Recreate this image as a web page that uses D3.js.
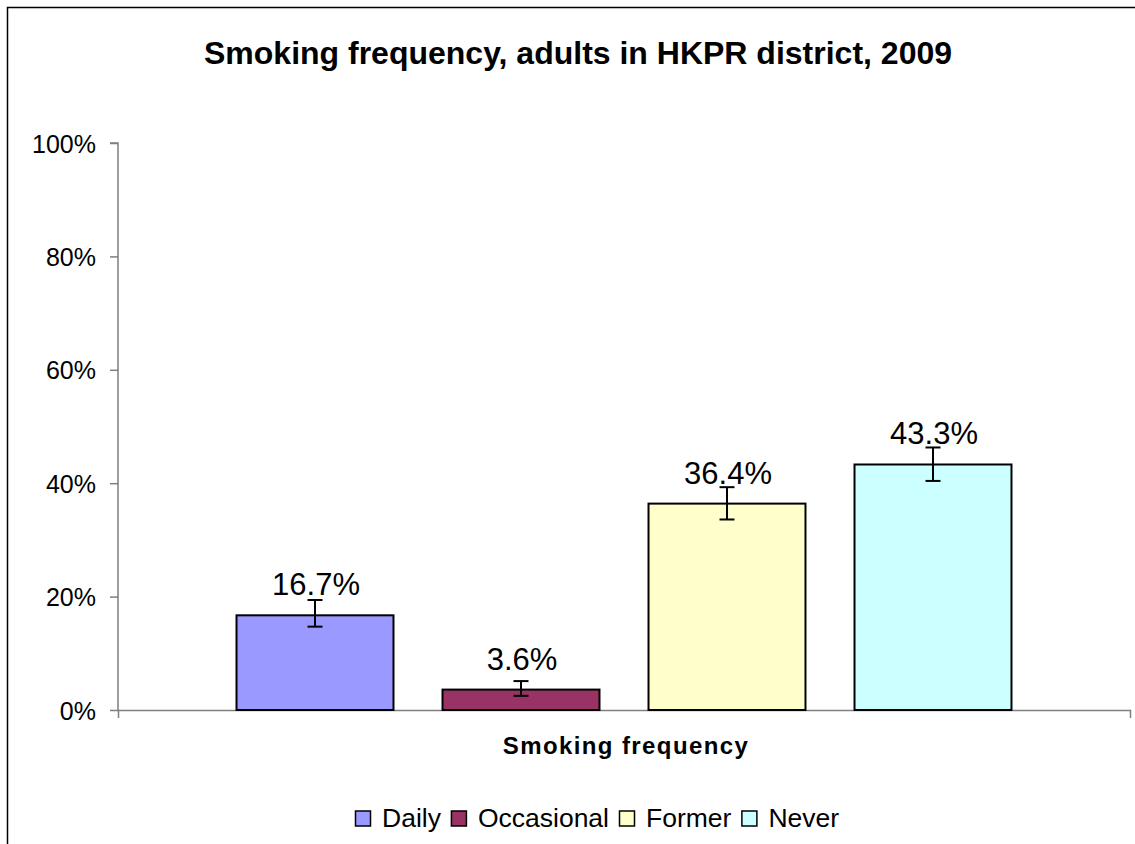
<!DOCTYPE html>
<html><head><meta charset="utf-8">
<script src="https://cdn.jsdelivr.net/npm/d3@7"></script>
<style>body{margin:0;background:#fff;overflow:hidden}svg{display:block}text{font-family:"Liberation Sans",Arial,sans-serif}</style>
</head><body>
<svg id="c" width="1135" height="844"></svg>
<script>
const title = "Smoking frequency, adults in HKPR district, 2009";
const xTitle = "Smoking frequency";
const category = ["Smoking frequency"];
const series = ["Daily", "Occasional", "Former", "Never"];
const values = [16.7, 3.6, 36.4, 43.3];
const errLow = [14.7, 2.5, 33.6, 40.4];
const errHigh = [19.4, 5.1, 39.3, 46.3];
const colors = ["#9999FF", "#993366", "#FFFFCC", "#CCFFFF"];
const yTicks = [0, 20, 40, 60, 80, 100];

const svg = d3.select("#c");
// outer chart border (extends past the visible area)
svg.append("rect").attr("x", 7.5).attr("y", 7.5).attr("width", 1300).attr("height", 1000)
  .attr("fill", "none").attr("stroke", "#000").attr("stroke-width", 1.5);

const L = 118, R = 1130, T = 143, B = 710;
const y = d3.scaleLinear().domain([0, 100]).range([B, T]);
const x0 = d3.scaleBand().domain(category).range([L, R]).paddingOuter(0).paddingInner(0);
const inner = 824;
const off = (x0.bandwidth() - inner) / 2;
const x1 = d3.scaleBand().domain(series).range([x0(category[0]) + off, x0(category[0]) + off + inner])
  .paddingInner(0.238).paddingOuter(0.119);

svg.append("text").attr("x", 578).attr("y", 64).attr("text-anchor", "middle")
  .attr("font-size", 32).attr("font-weight", "bold").text(title);

// y axis
const yAxis = d3.axisLeft(y).tickValues(yTicks).tickFormat(d => d + "%").tickSize(8).tickPadding(14);
const gy = svg.append("g").attr("transform", `translate(${L},0)`).call(yAxis);
gy.select(".domain").attr("stroke", "#7f7f7f").attr("stroke-width", 1.5).attr("d", `M-8,${T}H0V${B}`);
gy.selectAll(".tick line").attr("stroke", "#7f7f7f").attr("stroke-width", 1.5);
gy.selectAll(".tick text").attr("font-size", 25).attr("fill", "#000").attr("dy", "0.36em")
  .style("font-family", '"Liberation Sans",Arial,sans-serif');

// x axis
const xAxis = d3.axisBottom(x0).tickValues([]).tickSizeOuter(8);
const gx = svg.append("g").attr("transform", `translate(0,${B})`).call(xAxis);
gx.select(".domain").attr("stroke", "#7f7f7f").attr("stroke-width", 1.5);

// bars
const bars = svg.append("g");
series.forEach((s, i) => {
  bars.append("rect").attr("x", x1(s)).attr("y", y(values[i]))
    .attr("width", x1.bandwidth()).attr("height", y(0) - y(values[i]))
    .attr("fill", colors[i]).attr("stroke", "#000").attr("stroke-width", 2);
});
// error bars
series.forEach((s, i) => {
  const cx = x1(s) + x1.bandwidth() / 2;
  const g = svg.append("g").attr("stroke", "#000").attr("stroke-width", 2);
  g.append("line").attr("x1", cx).attr("x2", cx).attr("y1", y(errLow[i])).attr("y2", y(errHigh[i]));
  g.append("line").attr("x1", cx - 7.5).attr("x2", cx + 7.5).attr("y1", y(errLow[i])).attr("y2", y(errLow[i]));
  g.append("line").attr("x1", cx - 7.5).attr("x2", cx + 7.5).attr("y1", y(errHigh[i])).attr("y2", y(errHigh[i]));
});
// data labels
series.forEach((s, i) => {
  svg.append("text").attr("x", x1(s) + x1.bandwidth() / 2 + 1).attr("y", y(values[i]) - 20)
    .attr("text-anchor", "middle").attr("font-size", 31).text(values[i].toFixed(1) + "%");
});

// x axis title
svg.append("text").attr("x", 626).attr("y", 754).attr("text-anchor", "middle")
  .attr("font-size", 24).attr("font-weight", "bold").attr("letter-spacing", 1.4).text(xTitle);

// legend
const lg = svg.append("g");
let lx = 355;
series.forEach((s, i) => {
  lg.append("rect").attr("x", lx + 0.5).attr("y", 811).attr("width", 15).attr("height", 15)
    .attr("fill", colors[i]).attr("stroke", "#000").attr("stroke-width", 1.5);
  const t = lg.append("text").attr("x", lx + 27).attr("y", 827).attr("font-size", 26.5).text(s);
  lx += 27 + t.node().getComputedTextLength() + 10;
});
</script>
</body></html>
